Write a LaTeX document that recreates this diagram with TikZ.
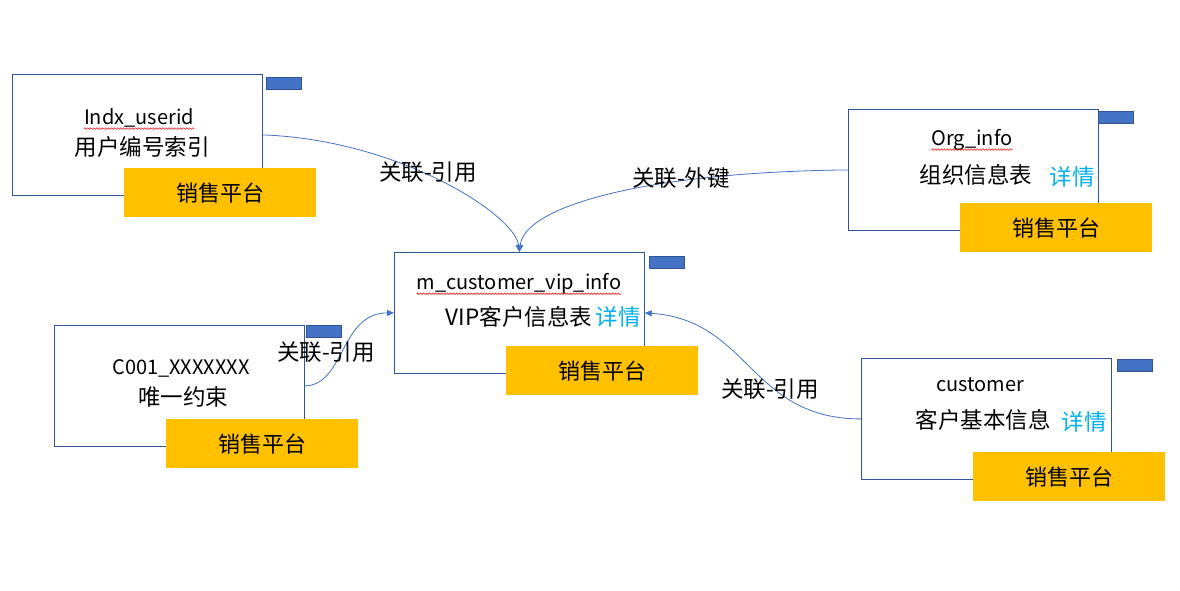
\documentclass[tikz,border=0pt]{standalone}
\usepackage{fontspec}
\setmainfont{Noto Sans CJK SC}
\usepackage{xcolor}
\usepackage{tikz}
\usetikzlibrary{arrows.meta,decorations.pathmorphing}
\definecolor{boxblue}{HTML}{2F5597}
\definecolor{linkblue}{HTML}{4472C4}
\definecolor{platyellow}{HTML}{FFC000}
\definecolor{detailcyan}{HTML}{00B0F0}

\begin{document}
\begin{tikzpicture}[x=1pt,y=-1pt,
  tbl/.style={draw=boxblue,line width=0.8pt,fill=white,minimum width=250pt,minimum height=121pt,anchor=north west,inner sep=0pt},
  tag/.style={draw=boxblue,fill=linkblue,line width=0.6pt,minimum width=35pt,minimum height=12pt,anchor=north west,inner sep=0pt},
  plat/.style={fill=platyellow,minimum width=192pt,minimum height=49pt,anchor=north west,inner sep=0pt,font=\fontsize{22}{26}\selectfont},
  txt/.style={inner sep=0pt,font=\fontsize{22.5}{26}\selectfont},
  eng/.style={inner sep=0pt,font=\fontsize{20}{24}\selectfont},
  more/.style={inner sep=0pt,text=detailcyan,font=\fontsize{22.5}{26}\selectfont},
  lnk/.style={draw=linkblue,line width=0.8pt,-{Triangle[length=7pt,width=6pt]}},
  squig/.style={draw=red,line width=0.5pt,decorate,decoration={snake,amplitude=0.8pt,segment length=3pt}}]
\useasboundingbox[fill=white] (0,0) rectangle (1180,590);

\node[tbl] (userIdx) at (12,74) {};
\node[tag] (userIdxTag) at (266,77) {};
\node[eng] (userIdxEn) at (139,118) {Indx\_userid};
\node[txt] (userIdxCn) at (142,147) {用户编号索引};
\draw[squig] ([yshift=-4pt]userIdxEn.base west) -- ([yshift=-4pt]userIdxEn.base east);

\node[tbl] (vipInfo) at (394,252) {};
\node[tag] (vipInfoTag) at (649,256) {};
\node[eng] (vipInfoEn) at (519,284) {m\_customer\_vip\_info};
\node[txt] (vipInfoCn) at (519,317) {VIP客户信息表};
\node[more] (vipInfoMore) at (618,317) {详情};
\draw[squig] ([yshift=-4pt]vipInfoEn.base west) -- ([yshift=-4pt]vipInfoEn.base east);

\node[tbl] (orgInfo) at (848,109) {};
\node[tag] (orgInfoTag) at (1098,111) {};
\node[eng] (orgInfoEn) at (972,140) {Org\_info};
\node[txt] (orgInfoCn) at (976,175) {组织信息表};
\node[more] (orgInfoMore) at (1072,177) {详情};
\draw[squig] ([yshift=-4pt]orgInfoEn.base west) -- ([yshift=-4pt]orgInfoEn.base east);

\node[tbl] (uniqCons) at (54,325) {};
\node[tag] (uniqConsTag) at (306,325) {};
\node[eng] (uniqConsEn) at (181,368) {C001\_XXXXXXX};
\node[txt] (uniqConsCn) at (183,397) {唯一约束};

\node[tbl] (custInfo) at (861,358) {};
\node[tag] (custInfoTag) at (1117,359) {};
\node[eng] (custInfoEn) at (980,385) {customer};
\node[txt] (custInfoCn) at (983,420) {客户基本信息};
\node[more] (custInfoMore) at (1084,422) {详情};

\draw[lnk] (userIdx.east) .. controls (400,140) and (515,215) .. (vipInfo.north);
\draw[lnk] (orgInfo.west) .. controls (650,172) and (525,205) .. (vipInfo.north);
\draw[lnk] (uniqCons.east) .. controls (345,385) and (340,313) .. (vipInfo.west);
\draw[lnk] (custInfo.west) .. controls (750,419) and (750,320) .. (vipInfo.east);

\node[txt] (refA) at (428,172) {关联-引用};
\node[txt] (fkO) at (681,178) {关联-外键};
\node[txt] (refC) at (326,352) {关联-引用};
\node[txt] (refK) at (770,389) {关联-引用};

\node[plat] (userIdxPlat) at (124,168) {销售平台};
\node[plat] (vipInfoPlat) at (506,346) {销售平台};
\node[plat] (orgInfoPlat) at (960,203) {销售平台};
\node[plat] (uniqConsPlat) at (166,419) {销售平台};
\node[plat] (custInfoPlat) at (973,452) {销售平台};
\end{tikzpicture}
\end{document}
